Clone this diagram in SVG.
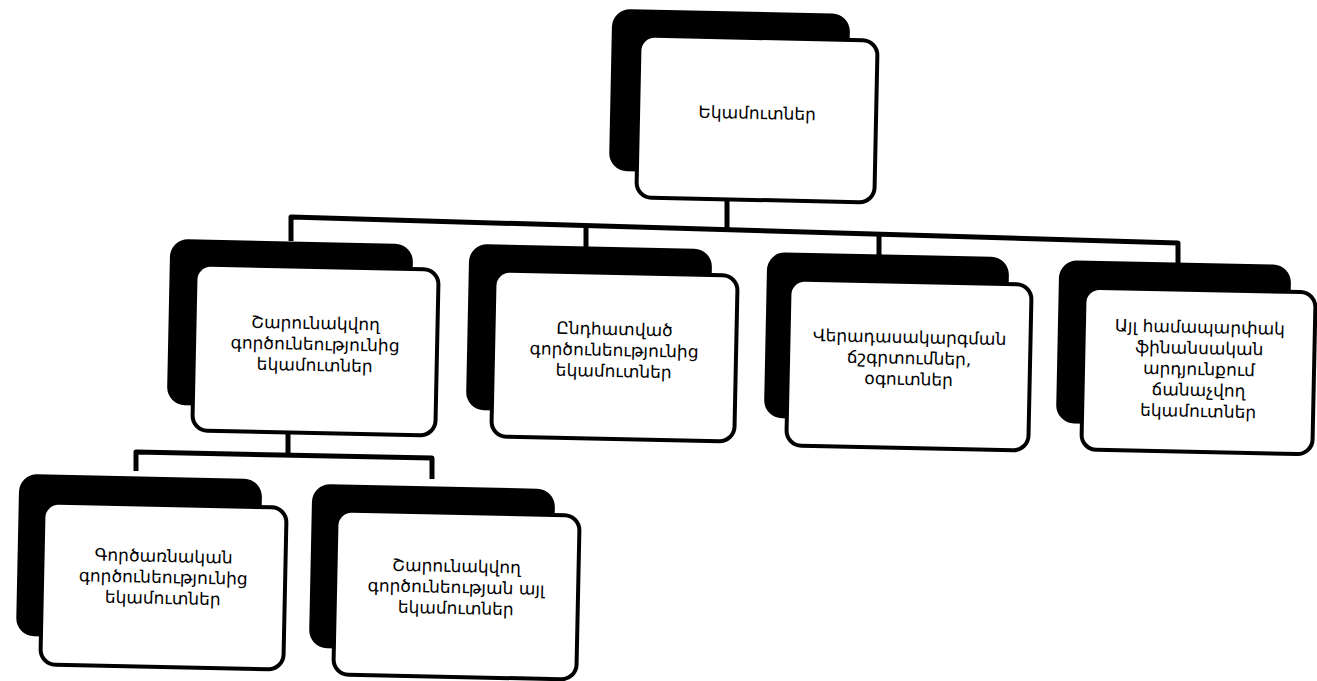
<svg xmlns="http://www.w3.org/2000/svg" width="1317" height="681" viewBox="0 0 1317 681">
<style>
.sh{fill:#000;}
.bx{fill:#fff;stroke:#000;stroke-width:4;}
.t{font-family:"DejaVu Sans","Noto Sans",sans-serif;font-size:17px;fill:#000;text-anchor:middle;}
.c{fill:none;stroke:#000;stroke-width:5;stroke-linejoin:round;stroke-linecap:butt;}
</style>
<rect width="1317" height="681" fill="#fff"/>
<g id="connectors">
<path class="c" d="M727,200 V231"/>
<path class="c" d="M291,241 V217 L1178,243 V268"/>
<path class="c" d="M586,226 V251"/>
<path class="c" d="M879,234 V259"/>
<path class="c" d="M288,433 V455"/>
<path class="c" d="M136,471 V452 L432,458 V479"/>
</g>
<g id="n0" transform="rotate(1.2 757 119)">
<rect class="sh" x="610" y="12" width="238" height="162" rx="18"/>
<rect class="bx" x="638" y="38" width="238" height="162" rx="15"/>
<text class="t" x="757" y="119">Եկամուտներ</text>
</g>
<g id="n1" transform="rotate(1.2 315 350)">
<rect class="sh" x="168" y="242" width="243" height="166" rx="18"/>
<rect class="bx" x="194" y="267" width="243" height="166" rx="15"/>
<text class="t" x="315" y="329">Շարունակվող</text>
<text class="t" x="315" y="350">գործունեությունից</text>
<text class="t" x="315" y="371">եկամուտներ</text>
</g>
<g id="n2" transform="rotate(1.2 614 356)">
<rect class="sh" x="467" y="247" width="243" height="166" rx="18"/>
<rect class="bx" x="493" y="273" width="243" height="166" rx="15"/>
<text class="t" x="614" y="335">Ընդհատված</text>
<text class="t" x="614" y="356">գործունեությունից</text>
<text class="t" x="614" y="377">եկամուտներ</text>
</g>
<g id="n3" transform="rotate(1.2 909 364)">
<rect class="sh" x="765" y="255" width="242" height="166" rx="18"/>
<rect class="bx" x="788" y="282" width="242" height="166" rx="15"/>
<text class="t" x="909" y="343">Վերադասակարգման</text>
<text class="t" x="909" y="364">ճշգրտումներ,</text>
<text class="t" x="909" y="385">օգուտներ</text>
</g>
<g id="n4" transform="rotate(1.2 1199 371)">
<rect class="sh" x="1057" y="263" width="232" height="163" rx="18"/>
<rect class="bx" x="1083" y="290" width="231" height="162" rx="15"/>
<text class="t" x="1199" y="333">Այլ համապարփակ</text>
<text class="t" x="1199" y="354">ֆինանսական</text>
<text class="t" x="1199" y="375">արդյունքում</text>
<text class="t" x="1199" y="396">ճանաչվող</text>
<text class="t" x="1199" y="417">եկամուտներ</text>
</g>
<g id="n5" transform="rotate(1.2 163 586)">
<rect class="sh" x="17" y="477" width="243" height="162" rx="18"/>
<rect class="bx" x="42" y="505" width="243" height="162" rx="15"/>
<text class="t" x="163" y="562">Գործառնական</text>
<text class="t" x="163" y="583">գործունեությունից</text>
<text class="t" x="163" y="604">եկամուտներ</text>
</g>
<g id="n6" transform="rotate(1.2 456 595)">
<rect class="sh" x="310" y="487" width="243" height="164" rx="18"/>
<rect class="bx" x="335" y="513" width="243" height="164" rx="15"/>
<text class="t" x="456" y="572">Շարունակվող</text>
<text class="t" x="456" y="593">գործունեության այլ</text>
<text class="t" x="456" y="614">եկամուտներ</text>
</g>
</svg>
